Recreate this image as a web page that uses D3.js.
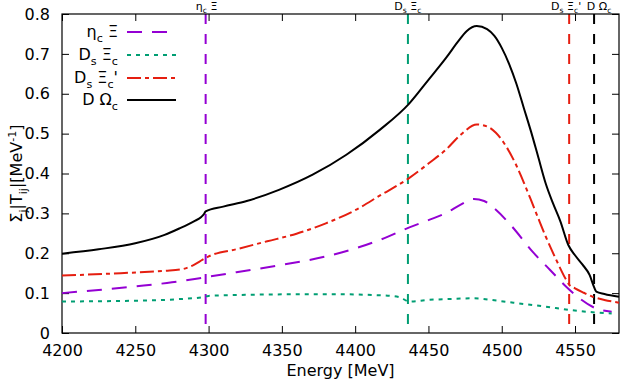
<!DOCTYPE html>
<html>
<head>
<meta charset="utf-8">
<script src="https://cdn.jsdelivr.net/npm/d3@7"></script>
<style>
body { margin: 0; background: #fff; }
text { font-family: "DejaVu Sans", sans-serif; }
</style>
</head>
<body>
<svg id="container" width="640" height="384"></svg>
<script>
// ---- data ----
var xTicks = [4200, 4250, 4300, 4350, 4400, 4450, 4500, 4550];
var yTicks = [0, 0.1, 0.2, 0.3, 0.4, 0.5, 0.6, 0.7, 0.8];

var etacXi = [
    [4200, 0.100], [4225, 0.108], [4250, 0.117], [4275, 0.127], [4298, 0.140], [4320, 0.153],
    [4350, 0.171], [4380, 0.192], [4400, 0.212], [4420, 0.238], [4437, 0.265], [4450, 0.283],
    [4462, 0.301], [4472, 0.322], [4481, 0.336], [4488, 0.331], [4496, 0.309], [4507, 0.267],
    [4521, 0.204], [4533, 0.158], [4544, 0.116], [4553, 0.087], [4564, 0.062], [4575, 0.053]
];
var dsXic = [
    [4200, 0.079], [4250, 0.081], [4280, 0.085], [4296, 0.090], [4300, 0.093], [4330, 0.096],
    [4358, 0.097], [4390, 0.097], [4420, 0.094], [4430, 0.090], [4437, 0.079], [4450, 0.083],
    [4462, 0.085], [4481, 0.087], [4495, 0.082], [4508, 0.076], [4530, 0.066], [4546, 0.058],
    [4562, 0.052], [4575, 0.049]
];
var dsXicPrime = [
    [4200, 0.144], [4240, 0.150], [4270, 0.156], [4282, 0.160], [4290, 0.171], [4296, 0.184],
    [4300, 0.192], [4320, 0.211], [4340, 0.230], [4360, 0.249], [4380, 0.275], [4400, 0.308],
    [4417, 0.345], [4437, 0.389], [4450, 0.425], [4462, 0.460], [4472, 0.497], [4483, 0.523],
    [4490, 0.518], [4496, 0.502], [4503, 0.468], [4510, 0.420], [4515, 0.378], [4520, 0.333],
    [4525, 0.287], [4530, 0.242], [4537, 0.185], [4544, 0.133], [4546, 0.121], [4550, 0.112],
    [4556, 0.101], [4562, 0.091], [4570, 0.083], [4580, 0.076]
];
var dOmegac = [
    [4200, 0.199], [4225, 0.210], [4250, 0.225], [4270, 0.246], [4280, 0.262], [4290, 0.280],
    [4295, 0.291], [4297, 0.299], [4298, 0.305], [4310, 0.317], [4326, 0.331], [4348, 0.359],
    [4371, 0.397], [4394, 0.447], [4417, 0.510], [4437, 0.576], [4450, 0.635], [4462, 0.690],
    [4470, 0.730], [4476, 0.757], [4483, 0.770], [4490, 0.762], [4495, 0.745], [4500, 0.715],
    [4505, 0.675], [4510, 0.625], [4515, 0.565], [4520, 0.505], [4525, 0.440], [4530, 0.375],
    [4535, 0.325], [4540, 0.280], [4545.5, 0.220], [4550, 0.195], [4555, 0.172], [4560, 0.145],
    [4563, 0.115], [4564.5, 0.104], [4570, 0.098], [4580, 0.091]
];

var thresholds = [4298, 4436, 4546, 4563];

// labels as [text, kind] parts
var seriesLabels = [
    [["η", ""], ["c", "sub"], [" Ξ", ""]],
    [["D", ""], ["s", "sub"], [" Ξ", ""], ["c", "sub"]],
    [["D", ""], ["s", "sub"], [" Ξ", ""], ["c", "sub"], ["'", ""]],
    [["D Ω", ""], ["c", "sub"]]
];
var yLabel = [["Σ", ""], ["j", "sub"], ["|T", ""], ["ij", "sub"], ["|[MeV", ""], ["-1", "sup"], ["]", ""]];
var xLabel = "Energy [MeV]";

// ---- styles ----
var colors = ["#9400d3", "#009e73", "#e51e10", "#000000"];
var dashes = ["15,10", "4,5", "14,4,4,4", null];

const svg = d3.select("#container");
const margin = { left: 62, right: 21, top: 14, bottom: 51 };
const width = 640 - margin.left - margin.right;
const height = 384 - margin.top - margin.bottom;

const x = d3.scaleLinear().domain([4200, 4580]).range([margin.left, margin.left + width]);
const y = d3.scaleLinear().domain([0, 0.8]).range([margin.top + height, margin.top]);

function addRich(textSel, parts, size)
{
    var shift = 0;
    parts.forEach(function(p)
    {
        var target = 0;
        if (p[1] == "sub") target = size * 0.3;
        if (p[1] == "sup") target = -size * 0.4;
        var ts = textSel.append("tspan").attr("dy", target - shift).text(p[0]);
        if (p[1] != "") ts.attr("font-size", size * 0.7);
        shift = target;
    });
}

// threshold lines
const thrGroup = svg.append("g");
thresholds.forEach(function(t, i)
{
    thrGroup.append("line")
        .attr("x1", x(t)).attr("x2", x(t))
        .attr("y1", margin.top).attr("y2", margin.top + height)
        .attr("stroke", colors[i]).attr("stroke-width", 2)
        .attr("stroke-dasharray", "10,10");
});
var thrLabelShift = [1, 0, -3, 5];
thresholds.forEach(function(t, i)
{
    var tx = svg.append("text")
        .attr("x", x(t) + thrLabelShift[i]).attr("y", 10)
        .attr("text-anchor", "middle").attr("font-size", 11);
    addRich(tx, seriesLabels[i], 11);
});

// axes with inward ticks on all sides
function styleAxis(g)
{
    g.select(".domain").remove();
    g.selectAll("line").attr("stroke", "#000");
    g.selectAll("text").attr("font-size", 16).attr("fill", "#000").attr("font-family", "DejaVu Sans");
}
const yFormat = d => d == 0 ? "0" : d3.format(".1f")(d);

svg.append("g").attr("transform", `translate(0,${margin.top + height})`)
    .call(d3.axisBottom(x).tickValues(xTicks).tickFormat(d3.format("d")).tickSizeInner(-7).tickSizeOuter(0).tickPadding(12))
    .call(styleAxis);
svg.append("g").attr("transform", `translate(0,${margin.top})`)
    .call(d3.axisTop(x).tickValues(xTicks).tickFormat("").tickSizeInner(-7).tickSizeOuter(0))
    .call(styleAxis);
svg.append("g").attr("transform", `translate(${margin.left},0)`)
    .call(d3.axisLeft(y).tickValues(yTicks).tickFormat(yFormat).tickSizeInner(-7).tickSizeOuter(0).tickPadding(12))
    .call(styleAxis);
svg.append("g").attr("transform", `translate(${margin.left + width},0)`)
    .call(d3.axisRight(y).tickValues(yTicks).tickFormat("").tickSizeInner(-7).tickSizeOuter(0))
    .call(styleAxis);

svg.append("rect")
    .attr("x", margin.left).attr("y", margin.top)
    .attr("width", width).attr("height", height)
    .attr("fill", "none").attr("stroke", "#000").attr("stroke-width", 1.2);

// curves
const line = d3.line().x(d => x(d[0])).y(d => y(d[1])).curve(d3.curveMonotoneX);
const allSeries = [etacXi, dsXic, dsXicPrime, dOmegac];
svg.append("g").selectAll("path").data(allSeries).join("path")
    .attr("d", d => line(d))
    .attr("fill", "none")
    .attr("stroke", (d, i) => colors[i])
    .attr("stroke-width", 2)
    .attr("stroke-dasharray", (d, i) => dashes[i]);

// legend
var legendRows = [32, 55, 78, 100];
const legend = svg.append("g");
seriesLabels.forEach(function(parts, i)
{
    legend.append("line")
        .attr("x1", 127).attr("x2", 176)
        .attr("y1", legendRows[i]).attr("y2", legendRows[i])
        .attr("stroke", colors[i]).attr("stroke-width", 2)
        .attr("stroke-dasharray", dashes[i]);
    var t = legend.append("text")
        .attr("x", 118).attr("y", legendRows[i] + 5)
        .attr("text-anchor", "end").attr("font-size", 16);
    addRich(t, parts, 16);
});

// axis titles
svg.append("text")
    .attr("x", margin.left + width / 2).attr("y", 376)
    .attr("text-anchor", "middle").attr("font-size", 16)
    .text(xLabel);
var yt = svg.append("text")
    .attr("transform", `translate(22,${margin.top + height / 2}) rotate(-90)`)
    .attr("text-anchor", "middle").attr("font-size", 16);
addRich(yt, yLabel, 16);
</script>
</body>
</html>
